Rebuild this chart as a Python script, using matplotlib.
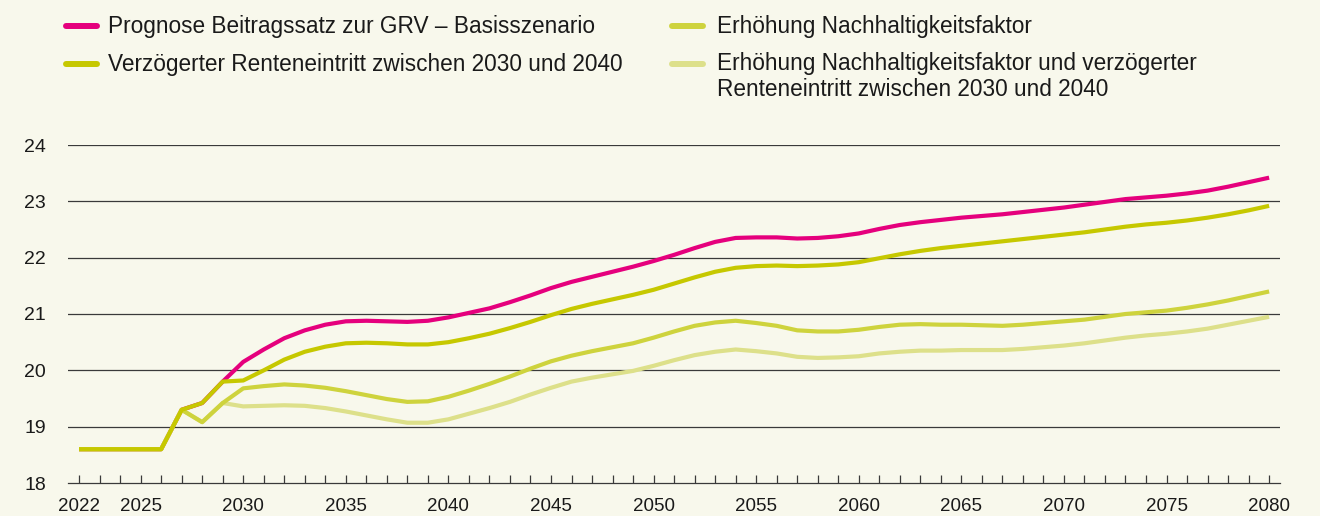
import matplotlib
matplotlib.use("Agg")
import matplotlib.pyplot as plt
from matplotlib.lines import Line2D

# ─── Daten (Beitragssatz GRV in %) ────────────────────────────────────────
jahre = list(range(2022, 2081))

basis = [18.6, 18.6, 18.6, 18.6, 18.6, 19.3, 19.42, 19.8, 20.15, 20.37,
         20.57, 20.71, 20.81, 20.87, 20.88, 20.87, 20.86, 20.88, 20.94, 21.02,
         21.1, 21.21, 21.33, 21.46, 21.57, 21.66, 21.75, 21.84, 21.94, 22.05,
         22.17, 22.28, 22.35, 22.36, 22.36, 22.34, 22.35, 22.38, 22.43, 22.51,
         22.58, 22.63, 22.67, 22.71, 22.74, 22.77, 22.81, 22.85, 22.89, 22.94,
         22.99, 23.04, 23.07, 23.1, 23.14, 23.19, 23.26, 23.34, 23.42]

verzoegert = [18.6, 18.6, 18.6, 18.6, 18.6, 19.3, 19.42, 19.8, 19.82, 20.0,
              20.19, 20.33, 20.42, 20.48, 20.49, 20.48, 20.46, 20.46, 20.5, 20.57,
              20.65, 20.75, 20.86, 20.98, 21.09, 21.18, 21.26, 21.34, 21.43, 21.54,
              21.65, 21.75, 21.82, 21.85, 21.86, 21.85, 21.86, 21.88, 21.92, 21.99,
              22.06, 22.12, 22.17, 22.21, 22.25, 22.29, 22.33, 22.37, 22.41, 22.45,
              22.5, 22.55, 22.59, 22.62, 22.66, 22.71, 22.77, 22.84, 22.92]

nachhaltigkeit = [18.6, 18.6, 18.6, 18.6, 18.6, 19.3, 19.08, 19.42, 19.68, 19.72,
                  19.75, 19.73, 19.69, 19.63, 19.56, 19.49, 19.44, 19.45, 19.53, 19.64,
                  19.76, 19.89, 20.03, 20.16, 20.26, 20.34, 20.41, 20.48, 20.58, 20.69,
                  20.79, 20.85, 20.88, 20.84, 20.79, 20.71, 20.69, 20.69, 20.72, 20.77,
                  20.81, 20.82, 20.81, 20.81, 20.8, 20.79, 20.81, 20.84, 20.87, 20.9,
                  20.95, 21.0, 21.03, 21.06, 21.11, 21.17, 21.24, 21.32, 21.4]

kombi = [18.6, 18.6, 18.6, 18.6, 18.6, 19.3, 19.08, 19.42, 19.36, 19.37,
         19.38, 19.37, 19.33, 19.27, 19.2, 19.13, 19.07, 19.07, 19.13, 19.23,
         19.33, 19.44, 19.57, 19.69, 19.8, 19.87, 19.93, 19.99, 20.08, 20.18,
         20.27, 20.33, 20.37, 20.34, 20.3, 20.24, 20.22, 20.23, 20.25, 20.3,
         20.33, 20.35, 20.35, 20.36, 20.36, 20.36, 20.38, 20.41, 20.44, 20.48,
         20.53, 20.58, 20.62, 20.65, 20.69, 20.74, 20.81, 20.88, 20.95]

labels = ["Prognose Beitragssatz zur GRV – Basisszenario",
          "Verzögerter Renteneintritt zwischen 2030 und 2040",
          "Erhöhung Nachhaltigkeitsfaktor",
          "Erhöhung Nachhaltigkeitsfaktor und verzögerter\nRenteneintritt zwischen 2030 und 2040"]
tick_jahre = [2022, 2025, 2030, 2035, 2040, 2045, 2050, 2055, 2060, 2065, 2070, 2075, 2080]

PINK = "#e5007d"
OLIV = "#c6c800"
MITTEL = "#ced33d"
HELL = "#dde08a"
BG = "#f8f8ec"

plt.rcParams["font.family"] = ["Liberation Sans", "DejaVu Sans"]

fig = plt.figure(figsize=(13.2, 5.16), dpi=100, facecolor=BG)
ax = fig.add_axes([68 / 1320, 1 - 483 / 516, 1212 / 1320, 338 / 516], facecolor=BG)

# Reihenfolge: Olivlinie liegt oben
ax.plot(jahre, basis, color=PINK, lw=3, solid_capstyle="butt", zorder=3)
ax.plot(jahre, kombi, color=HELL, lw=3, solid_capstyle="butt", zorder=4)
ax.plot(jahre, nachhaltigkeit, color=MITTEL, lw=3, solid_capstyle="butt", zorder=5)
ax.plot(jahre, verzoegert, color=OLIV, lw=3, solid_capstyle="butt", zorder=6)

ax.set_ylim(18, 24)
ax.set_xlim(2021.46, 2080.53)
ax.set_yticks(range(18, 25))
for v in range(19, 25):
    ax.axhline(v, color="#3a3a3a", lw=0.9, zorder=1)

ax.set_xticks(jahre)
ax.set_xticklabels([str(j) if j in tick_jahre else "" for j in jahre])
ax.tick_params(axis="x", direction="in", length=5.5, width=0.9, color="#3a3a3a",
               labelsize=13.5, pad=11, labelcolor="#1a1a1a")
ax.tick_params(axis="y", length=0, labelsize=14, pad=16, labelcolor="#1a1a1a")

for s in ["top", "right", "left"]:
    ax.spines[s].set_visible(False)
ax.spines["bottom"].set_color("#3a3a3a")
ax.spines["bottom"].set_linewidth(0.9)

# Legende von Hand (zwei Spalten)
farben = [PINK, OLIV, MITTEL, HELL]
# (Start Strich, Start Text, Mitte Strich, Grundlinie letzte Textzeile) in Pixel
pos = [(66, 108, 25.5, 32.5), (66, 108, 63.5, 70.5),
       (672, 717, 25.5, 32.5), (672, 717, 63.5, 96.2)]
for (hx, tx, hy, by), farbe, lab in zip(pos, farben, labels):
    fig.add_artist(Line2D([hx / 1320, (hx + 31) / 1320], [1 - hy / 516, 1 - hy / 516],
                          color=farbe, lw=4.3, solid_capstyle="round"))
    fig.text(tx / 1320, 1 - by / 516, lab, fontsize=16.3, va="baseline", ha="left",
             color="#1a1a1a", linespacing=1.2)

plt.savefig("out.png", dpi=100, facecolor=BG)
